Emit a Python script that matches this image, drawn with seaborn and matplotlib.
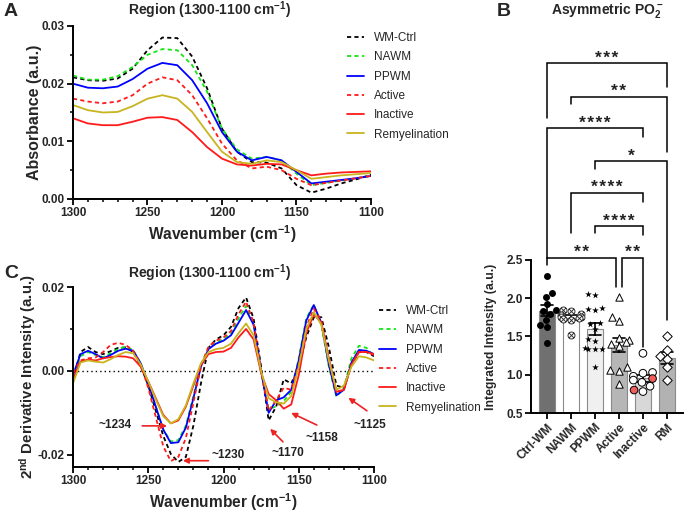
import numpy as np
import pandas as pd
import matplotlib
matplotlib.use("Agg")
import matplotlib.pyplot as plt
from matplotlib.path import Path
from matplotlib.ticker import MultipleLocator, FormatStrFormatter
import seaborn as sns

sns.set_theme(style="ticks")
plt.rcParams["font.family"] = ["Liberation Sans", "DejaVu Sans"]
plt.rcParams["font.weight"] = "bold"
plt.rcParams["axes.labelweight"] = "bold"
plt.rcParams["mathtext.fontset"] = "custom"
plt.rcParams["mathtext.rm"] = "Liberation Sans:bold"
plt.rcParams["mathtext.it"] = "Liberation Sans:bold"
plt.rcParams["mathtext.bf"] = "Liberation Sans:bold"
plt.rcParams["axes.unicode_minus"] = False

# ---------------- data ----------------
series = ["WM-Ctrl", "NAWM", "PPWM", "Active", "Inactive", "Remyelination"]

# panel A: absorbance, 1300 -> 1100 cm-1 every 10
wn_abs = [1300, 1290, 1280, 1270, 1260, 1250, 1240, 1230, 1220, 1210, 1200,
          1190, 1180, 1170, 1160, 1150, 1140, 1130, 1120, 1110, 1100]
abs_wm_ctrl = [0.0211, 0.0206, 0.0205, 0.0209, 0.0226, 0.0258, 0.0280, 0.0279, 0.0247, 0.0192, 0.0122,
               0.0082, 0.0064, 0.0063, 0.0053, 0.0024, 0.0011, 0.0018, 0.0027, 0.0034, 0.0042]
abs_nawm = [0.0214, 0.0207, 0.0207, 0.0213, 0.0229, 0.0250, 0.0260, 0.0258, 0.0232, 0.0186, 0.0122,
            0.0086, 0.0070, 0.0073, 0.0067, 0.0044, 0.0024, 0.0028, 0.0032, 0.0036, 0.0040]
abs_ppwm = [0.0200, 0.0193, 0.0192, 0.0195, 0.0208, 0.0226, 0.0236, 0.0232, 0.0206, 0.0166, 0.0116,
            0.0082, 0.0067, 0.0073, 0.0067, 0.0047, 0.0027, 0.0030, 0.0033, 0.0036, 0.0040]
abs_active = [0.0174, 0.0169, 0.0166, 0.0169, 0.0180, 0.0200, 0.0211, 0.0206, 0.0180, 0.0140, 0.0096,
              0.0067, 0.0053, 0.0056, 0.0050, 0.0035, 0.0024, 0.0028, 0.0032, 0.0036, 0.0040]
abs_inactive = [0.0140, 0.0131, 0.0128, 0.0128, 0.0134, 0.0141, 0.0142, 0.0137, 0.0116, 0.0090, 0.0070,
                0.0060, 0.0058, 0.0061, 0.0060, 0.0050, 0.0041, 0.0044, 0.0046, 0.0047, 0.0048]
abs_remyel = [0.0163, 0.0154, 0.0150, 0.0151, 0.0161, 0.0174, 0.0180, 0.0174, 0.0151, 0.0116, 0.0082,
              0.0064, 0.0061, 0.0067, 0.0064, 0.0050, 0.0035, 0.0038, 0.0041, 0.0043, 0.0045]

# panel C: second derivative, 1300 -> 1100 cm-1 every 5
wn_d2 = [1300, 1295, 1290, 1285, 1280, 1275, 1270, 1265, 1260, 1255,
         1250, 1245, 1240, 1235, 1230, 1225, 1220, 1215, 1210, 1205,
         1200, 1195, 1190, 1185, 1180, 1175, 1170, 1165, 1160, 1155,
         1150, 1145, 1140, 1135, 1130, 1125, 1120, 1115, 1110, 1105, 1100]
d2_wm_ctrl = [-0.0020, 0.0045, 0.0057, 0.0045, 0.0040, 0.0047, 0.0055, 0.0056, 0.0045, 0.0012,
              -0.0035, -0.0095, -0.0155, -0.0198, -0.0217, -0.0205, -0.0130, -0.0030, 0.0055, 0.0075,
              0.0085, 0.0105, 0.0150, 0.0175, 0.0125, 0.0010, -0.0118, -0.0085, -0.0020, -0.0030,
              0.0010, 0.0080, 0.0128, 0.0128, 0.0057, -0.0035, -0.0040, 0.0015, 0.0045, 0.0045, 0.0035]
d2_nawm = [-0.0015, 0.0035, 0.0045, 0.0038, 0.0033, 0.0042, 0.0052, 0.0058, 0.0050, 0.0018,
           -0.0030, -0.0085, -0.0140, -0.0168, -0.0165, -0.0130, -0.0060, 0.0015, 0.0055, 0.0068,
           0.0075, 0.0090, 0.0125, 0.0155, 0.0110, -0.0005, -0.0090, -0.0085, -0.0072, -0.0050,
           0.0030, 0.0125, 0.0158, 0.0110, 0.0010, -0.0062, -0.0040, 0.0030, 0.0060, 0.0055, 0.0035]
d2_ppwm = [-0.0010, 0.0040, 0.0048, 0.0040, 0.0030, 0.0038, 0.0048, 0.0053, 0.0048, 0.0018,
           -0.0030, -0.0085, -0.0140, -0.0172, -0.0170, -0.0135, -0.0065, 0.0010, 0.0052, 0.0065,
           0.0072, 0.0085, 0.0115, 0.0145, 0.0110, 0.0000, -0.0100, -0.0070, -0.0063, -0.0045,
           0.0025, 0.0120, 0.0157, 0.0115, 0.0015, -0.0058, -0.0045, 0.0020, 0.0050, 0.0048, 0.0040]
d2_active = [-0.0005, 0.0025, 0.0030, 0.0032, 0.0045, 0.0062, 0.0067, 0.0062, 0.0048, 0.0015,
             -0.0040, -0.0110, -0.0180, -0.0215, -0.0205, -0.0160, -0.0075, 0.0010, 0.0058, 0.0072,
             0.0080, 0.0095, 0.0135, 0.0165, 0.0115, 0.0000, -0.0095, -0.0070, -0.0040, -0.0045,
             0.0015, 0.0105, 0.0148, 0.0120, 0.0030, -0.0050, -0.0045, 0.0015, 0.0045, 0.0045, 0.0038]
d2_inactive = [-0.0020, 0.0022, 0.0027, 0.0025, 0.0030, 0.0033, 0.0035, 0.0034, 0.0030, 0.0010,
               -0.0025, -0.0065, -0.0105, -0.0125, -0.0118, -0.0085, -0.0035, 0.0015, 0.0040, 0.0045,
               0.0046, 0.0055, 0.0080, 0.0100, 0.0075, -0.0005, -0.0055, -0.0070, -0.0090, -0.0080,
               -0.0010, 0.0090, 0.0135, 0.0115, 0.0030, -0.0050, -0.0045, 0.0015, 0.0045, 0.0045, 0.0040]
d2_remyel = [-0.0030, 0.0020, 0.0025, 0.0022, 0.0020, 0.0028, 0.0038, 0.0045, 0.0042, 0.0015,
             -0.0025, -0.0068, -0.0108, -0.0125, -0.0115, -0.0082, -0.0030, 0.0018, 0.0045, 0.0052,
             0.0055, 0.0065, 0.0090, 0.0113, 0.0085, 0.0000, -0.0065, -0.0075, -0.0078, -0.0060,
             0.0010, 0.0100, 0.0140, 0.0110, 0.0025, -0.0045, -0.0035, 0.0010, 0.0035, 0.0032, 0.0025]

abs_data = dict(zip(series, [abs_wm_ctrl, abs_nawm, abs_ppwm, abs_active, abs_inactive, abs_remyel]))
d2_data = dict(zip(series, [d2_wm_ctrl, d2_nawm, d2_ppwm, d2_active, d2_inactive, d2_remyel]))

# panel B: integrated intensity per sample
groups = ["Ctrl-WM", "NAWM", "PPWM", "Active", "Inactive", "RM"]
ctrl_wm = [2.29, 2.07, 2.02, 1.93, 1.84, 1.83, 1.80, 1.72, 1.65, 1.63, 1.42]
nawm = [1.84, 1.83, 1.80, 1.78, 1.76, 1.75, 1.74, 1.73, 1.72, 1.52]
ppwm = [2.06, 2.04, 1.87, 1.86, 1.85, 1.67, 1.66, 1.60, 1.47, 1.44, 1.35, 1.34, 1.34, 1.33, 1.10]
active = [2.01, 1.76, 1.70, 1.48, 1.45, 1.43, 1.40, 1.37, 1.10, 1.06, 1.05, 0.88]
inactive = [1.28, 1.03, 1.02, 0.98, 0.95, 0.93, 0.90, 0.85, 0.80, 0.78]
inactive_red = ["n", "n", "n", "n", "y", "n", "n", "n", "y", "n"]
rm = [1.50, 1.32, 1.25, 1.20, 1.10, 0.93]

# significance brackets: (x1, x2, y, left leg end, right leg end, label)
brackets = [
    (0, 5, 5.07, 4.36, 4.76, "***"),
    (1, 5, 4.63, 4.54, 3.91, "**"),
    (0, 4, 4.22, 2.53, 4.11, "****"),
    (2, 5, 3.79, 3.69, 1.72, "*"),
    (1, 4, 3.38, 2.85, 3.26, "****"),
    (2, 4, 2.94, 2.85, 2.83, "****"),
    (0, 2.88, 2.53, 2.44, 2.15, "**"),
    (3.12, 4, 2.53, 2.15, 1.36, "**"),
]

# peak annotations in panel C: label, arrow head, arrow tail, text centre
peak_notes = [
    ("~1234", (1237.5, -0.0131), (1254, -0.0131), (1272, -0.0129)),
    ("~1230", (1227, -0.0214), (1210, -0.0214), (1197, -0.0200)),
    ("~1170", (1169, -0.0138), (1160.5, -0.0169), (1157, -0.0195)),
    ("~1158", (1155, -0.0100), (1138, -0.0129), (1134.6, -0.0160)),
    ("~1125", (1117, -0.0064), (1104.7, -0.0095), (1102.7, -0.0129)),
]

# ---------------- styles ----------------
colors = {"WM-Ctrl": "black", "NAWM": "#14e614", "PPWM": "#0000ff",
          "Active": "#ff1a1a", "Inactive": "#ff1a1a", "Remyelination": "#c8b41e"}
dash = (0, (2.3, 1.8))
styles = {"WM-Ctrl": dash, "NAWM": dash, "PPWM": "-",
          "Active": dash, "Inactive": "-", "Remyelination": "-"}
bar_colors = {"Ctrl-WM": "#707070", "NAWM": "#ffffff", "PPWM": "#f0f0f0",
              "Active": "#b6b6b6", "Inactive": "#d8d8d8", "RM": "#b2b2b2"}

W, H = 685, 519
fig = plt.figure(figsize=(W / 100, H / 100), dpi=100)


def box(x0, y0, x1, y1):
    return [x0 / W, 1 - y1 / H, (x1 - x0) / W, (y1 - y0) / H]


axA = fig.add_axes(box(73, 26, 371, 199))
axC = fig.add_axes(box(73, 287, 374, 467))
axB = fig.add_axes(box(531, 45, 683, 413))


def style_spectrum_axes(ax):
    sns.despine(ax=ax)
    for s in ["left", "bottom"]:
        ax.spines[s].set_linewidth(1.4)
        ax.spines[s].set_color("black")
    ax.set_xlim(1300, 1100)
    ax.xaxis.set_major_locator(MultipleLocator(50))
    ax.xaxis.set_minor_locator(MultipleLocator(10))
    ax.tick_params(which="major", length=4, width=1.3, labelsize=8.5, pad=2, color="black")
    ax.tick_params(which="minor", length=2.5, width=1.1, color="black")
    ax.set_xlabel("Wavenumber (cm$^{-1}$)", fontsize=11.2, labelpad=3)


def draw_spectra(ax, x, data):
    for name in series:
        sns.lineplot(x=x, y=data[name], ax=ax, color=colors[name], linestyle=styles[name],
                     linewidth=1.3, label=name, legend=False, sort=False)


# ---- panel A ----
draw_spectra(axA, wn_abs, abs_data)
style_spectrum_axes(axA)
axA.set_ylim(0, 0.03)
axA.yaxis.set_major_locator(MultipleLocator(0.01))
axA.yaxis.set_minor_locator(MultipleLocator(0.005))
axA.yaxis.set_major_formatter(FormatStrFormatter("%.2f"))
axA.set_ylabel("Absorbance (a.u.)", fontsize=11.5, labelpad=0)

# ---- panel C ----
axC.axhline(0, color="black", linestyle=(0, (1, 2.2)), linewidth=1.0, zorder=0)
draw_spectra(axC, wn_d2, d2_data)
style_spectrum_axes(axC)
axC.set_ylim(-0.0229, 0.02)
axC.yaxis.set_major_locator(MultipleLocator(0.02))
axC.yaxis.set_minor_locator(MultipleLocator(0.01))
axC.yaxis.set_major_formatter(FormatStrFormatter("%.2f"))
axC.set_ylabel("2$^{nd}$ Derivative Intensity (a.u.)", fontsize=10.8, labelpad=0)
for text, head, tail, tpos in peak_notes:
    axC.annotate("", xy=head, xytext=tail,
                 arrowprops=dict(arrowstyle="-|>", color="#ee2222", lw=1.2,
                                 mutation_scale=8, shrinkA=0, shrinkB=0))
    axC.text(tpos[0], tpos[1], text, ha="center", va="center", fontsize=8.5,
             fontweight="bold", color="#222222")

# legends
for ax, (lx, ly) in [(axA, (347, 32)), (axC, (379, 305))]:
    h, l = ax.get_legend_handles_labels()
    fig.legend(h, l, loc="upper left", bbox_to_anchor=(lx / W, 1 - ly / H),
               frameon=False, prop={"size": 8.5, "weight": "normal"},
               handlelength=1.45, handletextpad=0.8, labelspacing=0.62,
               borderpad=0, borderaxespad=0)

# ---- panel B ----
df = pd.DataFrame({
    "group": (["Ctrl-WM"] * len(ctrl_wm) + ["NAWM"] * len(nawm) + ["PPWM"] * len(ppwm)
              + ["Active"] * len(active) + ["Inactive"] * len(inactive) + ["RM"] * len(rm)),
    "value": ctrl_wm + nawm + ppwm + active + inactive + rm,
    "red": (["n"] * len(ctrl_wm) + ["n"] * len(nawm) + ["n"] * len(ppwm)
            + ["n"] * len(active) + inactive_red + ["n"] * len(rm)),
})

sns.barplot(data=df, x="group", y="value", order=groups, hue="group", palette=bar_colors,
            legend=False, errorbar="se", capsize=0.5, width=0.67, edgecolor="#8a8a8a",
            linewidth=0.8, err_kws={"color": "black", "linewidth": 1.2}, ax=axB)

otimes = Path.make_compound_path(
    Path.unit_circle(),
    Path([(-0.7, -0.7), (0.7, 0.7), (-0.7, 0.7), (0.7, -0.7)],
         [Path.MOVETO, Path.LINETO, Path.MOVETO, Path.LINETO]))

point_styles = {
    "Ctrl-WM": dict(marker="o", color="black", size=5, linewidth=0),
    "NAWM": dict(marker=otimes, color="white", size=5, linewidth=0.7, edgecolor="#333333"),
    "PPWM": dict(marker="*", color="black", size=5, linewidth=0),
    "Active": dict(marker="^", color="white", size=5.3, linewidth=0.7, edgecolor="black"),
    "RM": dict(marker="D", color="white", size=4.8, linewidth=0.7, edgecolor="black"),
}
for g in groups:
    sub = df[df["group"] == g]
    if g == "Inactive":
        sns.swarmplot(data=sub, x="group", y="value", order=groups, hue="red",
                      palette={"n": "white", "y": "#f25c5c"}, legend=False, marker="o",
                      size=5.5, linewidth=0.7, edgecolor="black", ax=axB, warn_thresh=1)
    else:
        sns.swarmplot(data=sub, x="group", y="value", order=groups, ax=axB,
                      warn_thresh=1, **point_styles[g])

sns.despine(ax=axB)
axB.spines["left"].set_bounds(0.5, 2.5)
for s in ["left", "bottom"]:
    axB.spines[s].set_linewidth(1.4)
    axB.spines[s].set_color("black")
axB.set_ylim(0.5, 5.31)
axB.set_xlim(-0.67, 5.67)
axB.set_yticks([0.5, 1.0, 1.5, 2.0, 2.5])
axB.tick_params(length=4, width=1.3, labelsize=8.5, pad=2, color="black")
axB.set_xlabel("")
axB.set_ylabel("Integrated Intensity (a.u.)", fontsize=8.8)
axB.yaxis.set_label_coords(-0.225, (1.5 - 0.5) / (5.31 - 0.5))
plt.setp(axB.get_xticklabels(), rotation=45, ha="right", rotation_mode="anchor")

for x1, x2, y, yl, yr, lab in brackets:
    axB.plot([x1, x1, x2, x2], [yl, y, y, yr], color="black", lw=1.1,
             clip_on=False, solid_joinstyle="miter")
    axB.text((x1 + x2) / 2, y + 0.01, "\u200a".join(lab), ha="center", va="baseline",
             fontsize=12.5, fontweight="bold", color="#222222")

# titles and panel letters
fig.text(210 / W, 1 - 10 / H, "Region (1300-1100 cm$^{-1}$)", ha="center", va="center",
         fontsize=10)
fig.text(210 / W, 1 - 273 / H, "Region (1300-1100 cm$^{-1}$)", ha="center", va="center",
         fontsize=10)
fig.text(607 / W, 1 - 10 / H, "Asymmetric PO$_2^-$", ha="center", va="center", fontsize=10)
fig.text(4 / W, 1 - 11 / H, "A", fontsize=14, va="center")
fig.text(4 / W, 1 - 274 / H, "C", fontsize=14, va="center")
fig.text(497 / W, 1 - 11 / H, "B", fontsize=14, va="center")

fig.savefig("out.png", dpi=100)
